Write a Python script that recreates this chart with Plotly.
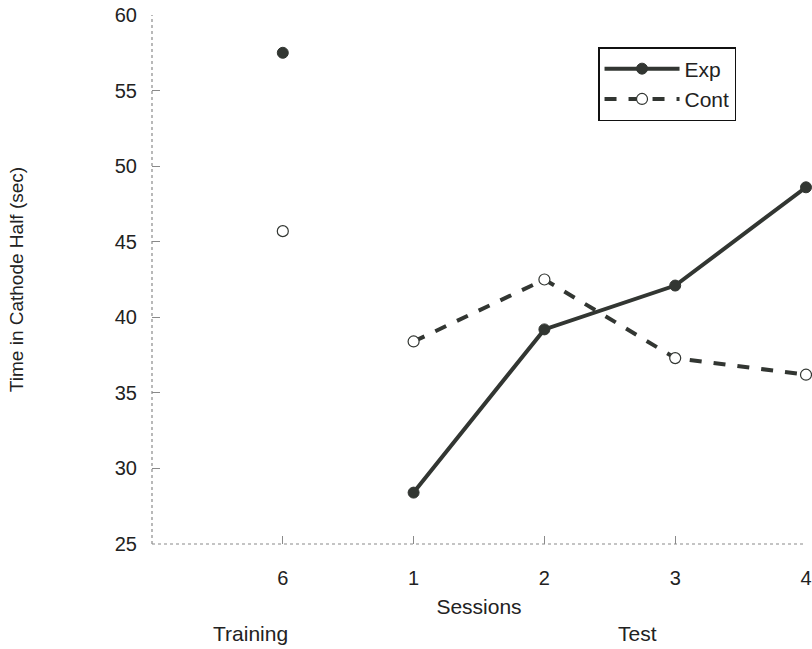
import plotly.graph_objects as go

sessions = ["6", "1", "2", "3", "4"]
training_sessions = ["6"]
test_sessions = ["1", "2", "3", "4"]

exp_training = [57.5]
cont_training = [45.7]
exp_test = [28.4, 39.2, 42.1, 48.6]
cont_test = [38.4, 42.5, 37.3, 36.2]

line_col = "#323632"
axis_col = "#8a8a8a"
font = "Liberation Sans, Arial, sans-serif"

fig = go.Figure()
fig.add_trace(go.Scatter(x=test_sessions, y=exp_test, name="Exp", mode="lines+markers",
                         line=dict(color=line_col, width=4),
                         marker=dict(size=11, color=line_col, line=dict(color=line_col, width=1)),
                         cliponaxis=False))
fig.add_trace(go.Scatter(x=test_sessions, y=cont_test, name="Cont", mode="lines+markers",
                         line=dict(color=line_col, width=4, dash="dash"),
                         marker=dict(size=11, color="white", line=dict(color=line_col, width=1.2)),
                         cliponaxis=False))
fig.add_trace(go.Scatter(x=training_sessions, y=exp_training, mode="markers", showlegend=False,
                         marker=dict(size=11, color=line_col, line=dict(color=line_col, width=1)),
                         cliponaxis=False))
fig.add_trace(go.Scatter(x=training_sessions, y=cont_training, mode="markers", showlegend=False,
                         marker=dict(size=11, color="white", line=dict(color=line_col, width=1.2)),
                         cliponaxis=False))

fig.update_layout(
    width=812, height=649,
    margin=dict(l=152, r=6, t=15, b=105),
    paper_bgcolor="white", plot_bgcolor="white",
    font=dict(family=font, size=20, color="#222222"),
    xaxis=dict(type="category", categoryorder="array", categoryarray=sessions,
               range=[-1, 4], showgrid=False, zeroline=False, showline=False,
               ticks="inside", ticklen=8, tickcolor=axis_col, tickwidth=1,
               tickfont=dict(size=20, family=font), ticklabelstandoff=20,
               ticklabeloverflow="allow",
               title=dict(text="Sessions", font=dict(size=21, family=font), standoff=11)),
    yaxis=dict(range=[25, 60], dtick=5, showgrid=False, zeroline=False, showline=False,
               ticks="inside", ticklen=8, tickcolor=axis_col, tickwidth=1,
               tickfont=dict(size=20, family=font), ticklabelstandoff=14,
               ticklabeloverflow="allow",
               title=dict(text="Time in Cathode Half (sec)", font=dict(size=19, family=font), standoff=86)),
    legend=dict(x=0.682, y=0.9395, xanchor="left", yanchor="top",
                bordercolor="#111111", borderwidth=1.5, bgcolor="white",
                font=dict(size=21, family=font), itemwidth=75, tracegroupgap=0),
    showlegend=True,
)
fig.update_yaxes(automargin=False)
fig.update_xaxes(automargin=False)

# dotted axis lines
fig.add_shape(type="line", xref="paper", yref="paper", x0=0, x1=1, y0=0, y1=0,
              line=dict(color=axis_col, width=1.2, dash="dot"))
fig.add_shape(type="line", xref="paper", yref="paper", x0=0, x1=0, y0=0, y1=1,
              line=dict(color=axis_col, width=1.2, dash="dot"))

fig.add_annotation(text="Training", x=0.15, y=-0.17, xref="paper", yref="paper",
                   xanchor="center", yanchor="middle",
                   showarrow=False, font=dict(size=21, family=font))
fig.add_annotation(text="Test", x=0.743, y=-0.17, xref="paper", yref="paper",
                   xanchor="center", yanchor="middle",
                   showarrow=False, font=dict(size=21, family=font))

fig.write_html("out.html", config={"displayModeBar": False},
               post_script="document.body.style.margin='0';document.body.style.overflow='hidden';")
